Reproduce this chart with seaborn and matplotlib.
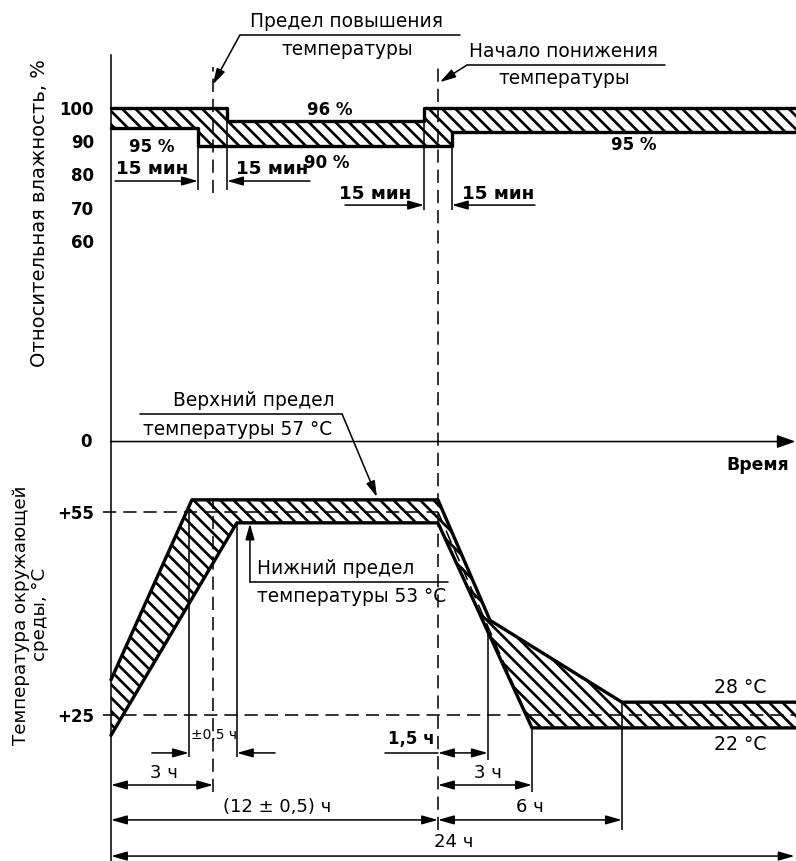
import numpy as np
import matplotlib
matplotlib.use("Agg")
import matplotlib.pyplot as plt
import seaborn as sns

# ---------------- data (schematic time scale in hours) ----------------
hum_time = [0, 3.19, 4.26, 11.49, 12.51, 25.14]
hum_upper = [100, 100, 96, 100, 100, 100]
hum_lower = [94, 88.5, 88.5, 88.5, 92.7, 92.7]
hum_ticks = [60, 70, 80, 90, 100]

temp_up_time = [0, 2.97, 12.0, 13.91, 18.75, 25.14]
temp_up = [30.2, 56.8, 56.8, 39.0, 26.9, 26.9]
temp_lo_time = [0, 4.62, 12.0, 15.45, 25.14]
temp_lo = [22.0, 53.4, 53.4, 23.1, 23.1]
temp_nom_time = [12.0, 15.25]
temp_nom = [55, 25]
temp_ticks = [25, 55]
temp_ticklabels = ["+25", "+55"]

t_rise_end = 3.75      # end of temperature rise (dashed line)
t_fall_start = 12.0    # start of temperature fall (dashed line)

# ---------------- style ----------------
sns.set_theme(style="white")
plt.rcParams["font.family"] = ["DejaVu Sans"]
plt.rcParams["text.color"] = "black"
plt.rcParams["hatch.color"] = "black"
plt.rcParams["hatch.linewidth"] = 2.4

DPI = 80
fig = plt.figure(figsize=(796 / DPI, 861 / DPI), dpi=DPI)
fig.patch.set_facecolor("white")

XLIM = (-4.073, 25.14)
ax_h = fig.add_axes([0, 0, 1, 1])
ax_t = fig.add_axes([0, 0, 1, 1])
ax_h.set_xlim(*XLIM)
ax_t.set_xlim(*XLIM)
ax_h.set_ylim(-125.6, 132.2)
ax_t.set_ylim(3.43, 130.66)
ax_t.patch.set_alpha(0)
ax_h.set_facecolor("white")

FS = 16.8    # regular annotation text
FB = 16.5    # bold labels
FD = 16.2    # dimension labels
TK = 1.4     # thin line
TH = 3.0     # thick line
DASH = (0, (8.5, 4.5))
HATCH = "\\\\"

for ax in (ax_h, ax_t):
    for s in ("top", "right", "bottom"):
        ax.spines[s].set_visible(False)
    ax.spines["left"].set_position(("data", 0))
    ax.set_xticks([])
    ax.tick_params(axis="y", direction="out", length=13.5, width=TK, pad=2.0,
                   labelsize=15, colors="black")

ax_h.spines["left"].set_color("black")
ax_h.spines["left"].set_linewidth(TK)
ax_h.spines["left"].set_bounds(-125.6, 115.7)
ax_t.spines["left"].set_visible(False)
ax_h.set_yticks(hum_ticks)
ax_h.set_yticklabels([str(v) for v in hum_ticks], fontweight="bold")
ax_t.set_yticks(temp_ticks)
ax_t.set_yticklabels(temp_ticklabels, fontweight="bold")


def arrow(ax, p0, p1, style="-|>", lw=TK, hl=0.6, hw=0.17, ms=20):
    ax.annotate("", xy=p1, xytext=p0,
                arrowprops=dict(arrowstyle=f"{style},head_length={hl},head_width={hw}",
                                color="black", lw=lw, shrinkA=0, shrinkB=0,
                                mutation_scale=ms))


def label(ax, x, y, s, bold=False, size=None, **kw):
    kw.setdefault("ha", "center")
    kw.setdefault("va", "center")
    ax.text(x, y, s, fontsize=size or (FB if bold else FS), color="black",
            fontweight="bold" if bold else "normal", **kw)


# ---------------- humidity band ----------------
ax_h.fill_between(hum_time, hum_lower, hum_upper, step="post", facecolor="none",
                  edgecolor="black", hatch=HATCH, linewidth=0)
sns.lineplot(x=hum_time, y=hum_upper, ax=ax_h, color="black", lw=TH,
             drawstyle="steps-post", estimator=None, sort=False)
sns.lineplot(x=hum_time, y=hum_lower, ax=ax_h, color="black", lw=TH,
             drawstyle="steps-post", estimator=None, sort=False)

# 15-min reference lines
ax_h.vlines([hum_time[1], hum_time[2]], [hum_lower[1], hum_upper[2]], 75.3, color="black", lw=TK)
ax_h.vlines([hum_time[3], hum_time[4]], [hum_upper[2], hum_lower[3]], 69.3, color="black", lw=TK)
ax_h.vlines([t_rise_end], 74.4, 112.1, color="black", lw=TK, linestyle=DASH)

arrow(ax_h, (0.15, 78.0), (hum_time[1], 78.0))
arrow(ax_h, (7.30, 78.0), (hum_time[2], 78.0))
arrow(ax_h, (8.59, 70.8), (hum_time[3], 70.8))
arrow(ax_h, (15.56, 70.8), (hum_time[4], 70.8))

label(ax_h, 1.50, 81.5, "15 мин", bold=True)
label(ax_h, 5.91, 81.5, "15 мин", bold=True)
label(ax_h, 9.69, 74.0, "15 мин", bold=True)
label(ax_h, 14.20, 74.1, "15 мин", bold=True)

label(ax_h, 8.04, 99.3, "96 %", bold=True, size=15)
label(ax_h, 1.50, 88.2, "95 %", bold=True, size=15)
label(ax_h, 7.93, 83.4, "90 %", bold=True, size=15)
label(ax_h, 19.19, 88.8, "95 %", bold=True, size=15)

# leaders on top
ax_h.plot([12.81, 4.73], [121.7, 121.7], color="black", lw=TK)
arrow(ax_h, (4.73, 121.7), (3.74, 106.9))
label(ax_h, 8.66, 125.7, "Предел повышения")
label(ax_h, 8.66, 117.3, "температуры")

ax_h.plot([20.33, 13.06], [112.7, 112.7], color="black", lw=TK)
arrow(ax_h, (13.06, 112.7), (12.07, 107.6))
label(ax_h, 16.59, 116.9, "Начало понижения")
label(ax_h, 16.62, 108.7, "температуры")

# time axis
arrow(ax_h, (0, 0), (XLIM[1] - 0.02, 0), lw=TK, hl=0.7, hw=0.25, ms=20)
label(ax_h, -0.70, -0.15, "0", bold=True, size=15, ha="right")
label(ax_h, 23.75, -7.0, "Время", bold=True, size=15.5)

label(ax_h, -2.61, 68.4, "Относительная влажность, %", size=17.5, rotation=90)

# ---------------- temperature band ----------------
poly_t = np.r_[temp_up_time, temp_lo_time[::-1]]
poly_T = np.r_[temp_up, temp_lo[::-1]]
ax_t.fill(poly_t, poly_T, facecolor="none", edgecolor="black", hatch=HATCH, linewidth=0)
sns.lineplot(x=temp_up_time, y=temp_up, ax=ax_t, color="black", lw=TH,
             estimator=None, sort=False)
sns.lineplot(x=temp_lo_time, y=temp_lo, ax=ax_t, color="black", lw=TH,
             estimator=None, sort=False)

# nominal profile (dashed)
ax_t.plot([-0.3, t_fall_start], [55, 55], color="black", lw=TK, linestyle=DASH)
ax_t.plot([-0.3, XLIM[1]], [25, 25], color="black", lw=TK, linestyle=DASH)
ax_t.plot(temp_nom_time, temp_nom, color="black", lw=TK, linestyle=DASH)

# vertical reference lines
ax_t.vlines([t_fall_start], 8.0, 120.8, color="black", lw=TK, linestyle=DASH)
ax_t.vlines([t_rise_end], 13.6, 56.8, color="black", lw=TK, linestyle=DASH)
ax_t.vlines([2.86], 18.8, 55, color="black", lw=TK)
ax_t.vlines([temp_lo_time[1]], 18.8, temp_lo[1], color="black", lw=TK)
ax_t.vlines([13.83], 18.35, 38.0, color="black", lw=TK)
ax_t.vlines([temp_lo_time[3]], 13.6, temp_lo[3], color="black", lw=TK)
ax_t.vlines([temp_up_time[4]], 8.0, temp_up[4], color="black", lw=TK)

# dimension arrows
arrow(ax_t, (1.50, 19.4), (2.86, 19.4))
arrow(ax_t, (6.02, 19.4), (temp_lo_time[1], 19.4))
ax_t.plot([10.06, t_fall_start], [19.4, 19.4], color="black", lw=TK)
arrow(ax_t, (t_fall_start, 19.4), (13.83, 19.4), style="<|-|>")
arrow(ax_t, (0, 14.66), (t_rise_end, 14.66), style="<|-|>")
arrow(ax_t, (t_fall_start, 14.66), (temp_lo_time[3], 14.66), style="<|-|>")
arrow(ax_t, (0, 9.5), (t_fall_start, 9.5), style="<|-|>")
arrow(ax_t, (t_fall_start, 9.5), (temp_up_time[4], 9.5), style="<|-|>")
arrow(ax_t, (0, 4.16), (XLIM[1] - 0.05, 4.16), style="<|-|>")

label(ax_t, 3.78, 22.0, "±0,5 ч", size=12.5)
label(ax_t, 11.01, 21.4, "1,5 ч", bold=True, size=15)
label(ax_t, 1.94, 16.5, "3 ч", size=FD)
label(ax_t, 13.85, 16.5, "3 ч", size=FD)
label(ax_t, 6.09, 11.4, "(12 ± 0,5) ч", size=FD)
label(ax_t, 15.38, 11.4, "6 ч", size=FD)
label(ax_t, 12.59, 6.3, "24 ч", size=FD)

label(ax_t, 23.08, 29.0, "28 °C", size=17)
label(ax_t, 23.08, 20.6, "22 °C", size=17)

# leaders for limits
ax_t.plot([1.06, 8.48], [69.5, 69.5], color="black", lw=TK)
arrow(ax_t, (8.48, 69.5), (9.76, 57.2))
label(ax_t, 2.28, 71.5, "Верхний предел", ha="left")
label(ax_t, 1.17, 67.2, "температуры 57 °C", ha="left")

ax_t.plot([12.37, 5.10], [44.66, 44.66], color="black", lw=TK)
arrow(ax_t, (5.10, 44.66), (5.10, 53.3))
label(ax_t, 5.36, 46.6, "Нижний предел", ha="left")
label(ax_t, 5.36, 42.5, "температуры 53 °C", ha="left")

label(ax_t, -2.95, 39.8, "Температура окружающей\nсреды, °C", size=16.4,
      rotation=90, linespacing=1.05)

fig.savefig("out.png", dpi=DPI, facecolor="white")
